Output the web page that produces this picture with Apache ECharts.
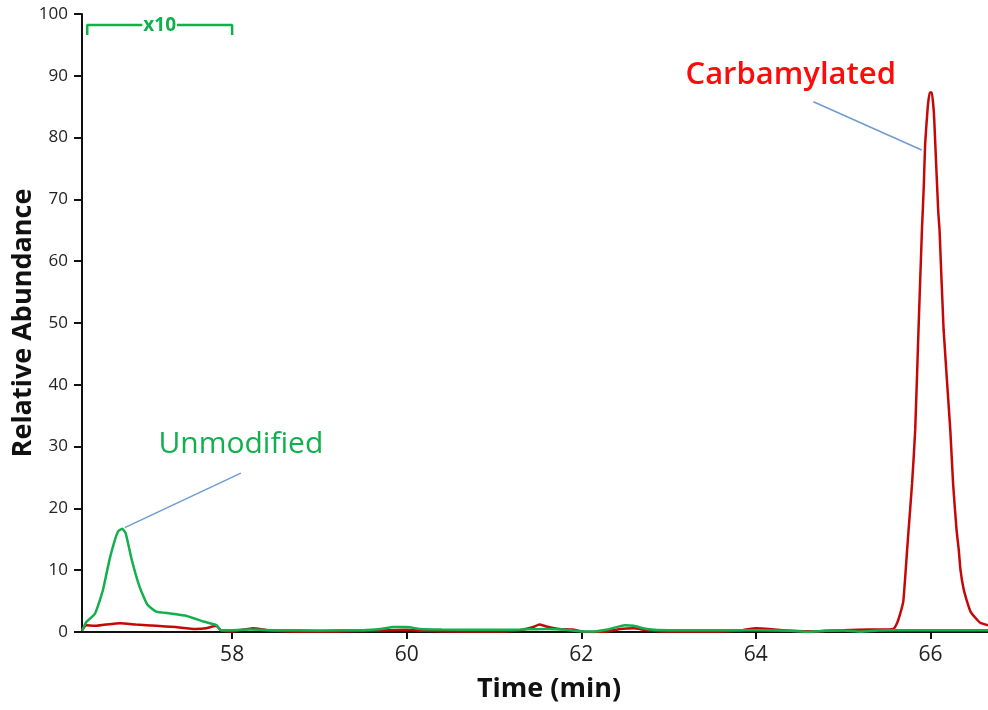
<!DOCTYPE html>
<html>
<head>
<meta charset="utf-8">
<script src="https://cdn.jsdelivr.net/npm/echarts@6/dist/echarts.min.js"></script>
<style>
  html, body { margin: 0; padding: 0; background: #ffffff; }
  #chart { width: 988px; height: 710px; }
</style>
</head>
<body>
<div id="chart"></div>
<script>
// Extracted ion chromatograms: retention time (min) vs relative abundance (%)
// Unmodified peptide (trace shown x10 between 56.3 and 58 min)
const unmodTime = [56.28, 56.33, 56.43, 56.52, 56.60, 56.69, 56.74, 56.78, 56.85, 56.94, 57.03, 57.13, 57.29, 57.48, 57.67, 57.82, 57.87,
  58.0, 58.2, 58.5, 59.0, 59.5, 59.7, 59.85, 60.0, 60.15, 60.4, 61.0, 61.3, 61.6, 61.8, 62.0, 62.15, 62.3, 62.5, 62.6, 62.75,
  63.0, 63.5, 64.0, 64.4, 64.6, 64.8, 65.0, 65.2, 65.4, 65.8, 66.2, 66.66];
const unmodAbund = [0.2, 1.6, 3.0, 6.8, 12.0, 16.2, 16.7, 16.0, 11.7, 7.3, 4.4, 3.3, 3.0, 2.6, 1.7, 1.1, 0.3,
  0.3, 0.4, 0.3, 0.25, 0.3, 0.5, 0.8, 0.8, 0.5, 0.4, 0.35, 0.4, 0.5, 0.4, 0.1, 0.1, 0.4, 1.1, 1.0, 0.5,
  0.3, 0.3, 0.3, 0.2, 0.0, 0.2, 0.25, 0.05, 0.25, 0.3, 0.3, 0.3];

// Carbamylated peptide
const carbTime = [56.28, 56.33, 56.42, 56.55, 56.72, 56.9, 57.13, 57.35, 57.58, 57.7, 57.82, 57.87,
  58.0, 58.24, 58.4, 58.8, 59.2, 59.6, 59.8, 60.0, 60.2, 60.6, 61.0, 61.3, 61.45, 61.52, 61.6, 61.75, 61.9,
  62.05, 62.3, 62.45, 62.6, 62.75, 63.0, 63.5, 63.85, 64.0, 64.15, 64.4, 64.7, 65.0, 65.3, 65.43,
  65.575, 65.62, 65.655, 65.69, 65.732, 65.75, 65.79, 65.826, 65.864, 65.903, 65.924, 65.94, 65.97, 65.993,
  66.016, 66.04, 66.056, 66.09, 66.105, 66.151, 66.228, 66.26, 66.30, 66.325, 66.345, 66.38, 66.425,
  66.46, 66.515, 66.57, 66.66];
const carbAbund = [0.3, 1.1, 1.0, 1.2, 1.4, 1.2, 1.0, 0.8, 0.5, 0.6, 1.0, 0.3,
  0.1, 0.6, 0.3, 0.1, 0.1, 0.2, 0.3, 0.35, 0.2, 0.1, 0.1, 0.3, 0.8, 1.2, 0.9, 0.5, 0.4,
  0.0, 0.1, 0.5, 0.6, 0.3, 0.1, 0.1, 0.3, 0.6, 0.5, 0.2, 0.1, 0.3, 0.4, 0.4,
  0.5, 1.5, 3.0, 5.0, 13.0, 16.5, 24.0, 32.7, 49.0, 65.0, 72.0, 79.0, 85.0, 87.3,
  87.3, 84.0, 79.0, 68.0, 65.0, 49.0, 32.7, 24.0, 16.5, 13.3, 10.0, 7.0, 4.7,
  3.3, 2.3, 1.5, 1.1];

// Axis ranges and ticks
const timeRange = [56.28, 66.66];
const timeTicks = [58, 60, 62, 64, 66];
const abundRange = [0, 100];

// "x10" bracket span (min) and its height (%)
const zoomSpan = [56.34, 58.0];
const zoomLevel = [98.2, 96.6];
const zoomText = 'x10';

// Callouts: label anchor, leader start (on peak) and leader end
const unmodLabel = { text: 'Unmodified', at: [58.10, 30.3], from: [56.77, 16.9], to: [58.10, 25.7] };
const carbLabel = { text: 'Carbamylated', at: [64.40, 90.1], from: [65.90, 78.0], to: [64.66, 85.8] };

const GREEN = '#12b04c';
const RED = '#c40808';
const LEADER = '#6f9bd3';
const FONT = '"Open Sans", "DejaVu Sans", sans-serif';

const zip = (xs, ys) => xs.map((x, i) => [x, ys[i]]);

const chart = echarts.init(document.getElementById('chart'), null, { renderer: 'canvas' });

chart.setOption({
  animation: false,
  backgroundColor: '#ffffff',
  grid: { left: 82, right: 0, top: 14, bottom: 78, containLabel: false, outerBoundsMode: 'none' },
  xAxis: {
    type: 'value',
    min: timeRange[0],
    max: timeRange[1],
    name: 'Time (min)',
    nameLocation: 'middle',
    nameGap: 44,
    nameMoveOverlap: false,
    nameTextStyle: { fontFamily: FONT, fontWeight: 'bold', fontSize: 27, color: '#111', padding: [0, 0, 0, 28] },
    axisLine: { show: true, onZero: false, lineStyle: { color: '#111', width: 2 } },
    axisTick: { show: true, length: 7, lineStyle: { color: '#111', width: 2 }, customValues: timeTicks },
    axisLabel: { fontFamily: FONT, fontSize: 21, color: '#222', margin: 13, customValues: timeTicks },
    splitLine: { show: false }
  },
  yAxis: {
    type: 'value',
    min: abundRange[0],
    max: abundRange[1],
    interval: 10,
    name: 'Relative Abundance',
    nameLocation: 'middle',
    nameGap: 45,
    nameMoveOverlap: false,
    nameRotate: 90,
    nameTextStyle: { fontFamily: FONT, fontWeight: 'bold', fontSize: 27, color: '#111' },
    axisLine: { show: true, lineStyle: { color: '#111', width: 2 } },
    axisTick: { show: true, length: 8, lineStyle: { color: '#111', width: 2 } },
    axisLabel: { fontFamily: FONT, fontSize: 17, color: '#222', margin: 14 },
    splitLine: { show: false }
  },
  series: [
    {
      name: 'Carbamylated',
      type: 'line',
      data: zip(carbTime, carbAbund),
      showSymbol: false,
      smooth: 0.15,
      lineStyle: { color: RED, width: 2.5 },
      z: 2,
      silent: true
    },
    {
      name: 'Unmodified',
      type: 'line',
      data: zip(unmodTime, unmodAbund),
      showSymbol: false,
      smooth: 0.15,
      lineStyle: { color: GREEN, width: 2.5 },
      z: 3,
      silent: true
    },
    {
      name: 'x10 range',
      type: 'line',
      data: [[zoomSpan[0], zoomLevel[1]], [zoomSpan[0], zoomLevel[0]], [zoomSpan[1], zoomLevel[0]], [zoomSpan[1], zoomLevel[1]]],
      showSymbol: false,
      lineStyle: { color: GREEN, width: 2.5 },
      z: 4,
      silent: true
    }
  ]
});

// Annotation texts and leader lines, placed from data coordinates
function px(pt) { return chart.convertToPixel({ gridIndex: 0 }, pt); }

function annotate() {
  const u0 = px(unmodLabel.from), u1 = px(unmodLabel.to), uT = px(unmodLabel.at);
  const c0 = px(carbLabel.from), c1 = px(carbLabel.to), cT = px(carbLabel.at);
  const zT = px([(zoomSpan[0] + zoomSpan[1]) / 2, zoomLevel[0]]);
  chart.setOption({
    graphic: [
      { type: 'line', shape: { x1: u0[0], y1: u0[1], x2: u1[0], y2: u1[1] }, style: { stroke: LEADER, lineWidth: 1.5 }, z: 10, silent: true },
      { type: 'line', shape: { x1: c0[0], y1: c0[1], x2: c1[0], y2: c1[1] }, style: { stroke: LEADER, lineWidth: 1.5 }, z: 10, silent: true },
      { type: 'text', x: uT[0], y: uT[1], style: { text: unmodLabel.text, fill: GREEN, font: '500 30px ' + FONT, align: 'center', verticalAlign: 'middle' }, z: 10, silent: true },
      { type: 'text', x: cT[0], y: cT[1], style: { text: carbLabel.text, fill: '#ff0a0a', font: '600 31px ' + FONT, align: 'center', verticalAlign: 'middle' }, z: 10, silent: true },
      { type: 'text', x: zT[0], y: zT[1], style: { text: zoomText, fill: GREEN, font: 'bold 19px ' + FONT, align: 'center', verticalAlign: 'middle', backgroundColor: '#ffffff', padding: [0, 1, 0, 1] }, z: 10, silent: true }
    ]
  });
}
annotate();
</script>
</body>
</html>
